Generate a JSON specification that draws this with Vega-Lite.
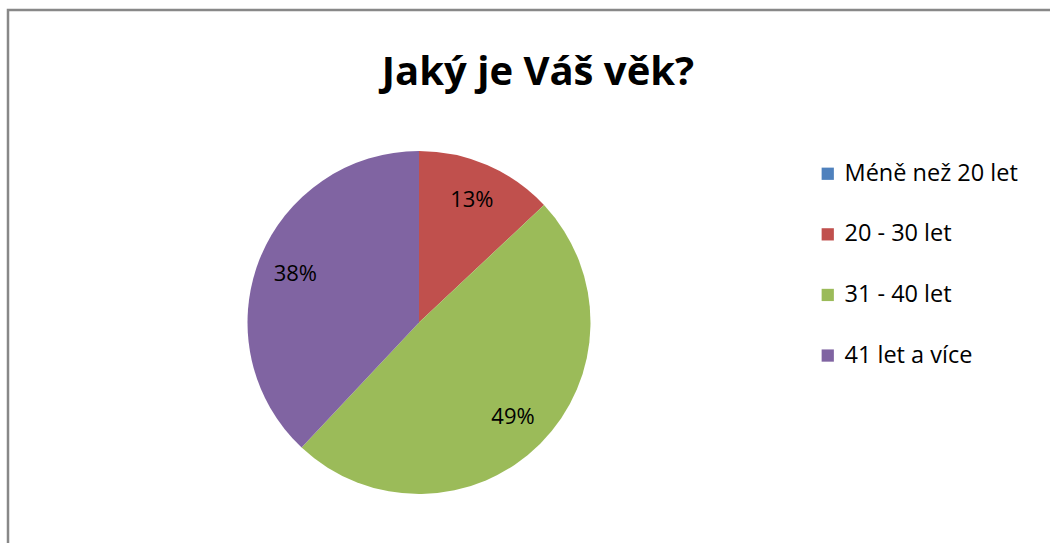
{
  "$schema": "https://vega.github.io/schema/vega-lite/v6.json",
  "autosize": {"type": "none"},
  "padding": {"left": 8, "top": 10, "right": 0, "bottom": 0},
  "width": 1060,
  "height": 560,
  "background": "white",
  "view": {"stroke": "#888888", "strokeWidth": 2.5},
  "title": {
    "text": "Jaký je Váš věk?",
    "font": "Open Sans",
    "fontSize": 40,
    "fontWeight": "bold",
    "color": "#000000",
    "anchor": "middle",
    "frame": "group",
    "baseline": "alphabetic",
    "offset": -115
  },
  "config": {
    "font": "Open Sans"
  },
  "data": {
    "values": [
      {"vek": "Méně než 20 let", "podil": 0.0, "poradi": 1},
      {"vek": "20 - 30 let", "podil": 0.13, "poradi": 2},
      {"vek": "31 - 40 let", "podil": 0.49, "poradi": 3},
      {"vek": "41 let a více", "podil": 0.38, "poradi": 4}
    ]
  },
  "encoding": {
    "theta": {"field": "podil", "type": "quantitative", "stack": true},
    "order": {"field": "poradi", "type": "quantitative"}
  },
  "layer": [
    {
      "mark": {"type": "arc", "x": 411, "y": 312.5, "outerRadius": 171.5, "stroke": null},
      "encoding": {
        "color": {
          "field": "vek",
          "type": "nominal",
          "scale": {
            "domain": ["Méně než 20 let", "20 - 30 let", "31 - 40 let", "41 let a více"],
            "range": ["#4F81BD", "#C0504D", "#9BBB59", "#8064A2"]
          },
          "legend": {
            "title": null,
            "orient": "none",
            "legendX": 808,
            "legendY": 152,
            "padding": 0,
            "symbolType": "square",
            "symbolSize": 150,
            "symbolStrokeWidth": 0,
            "labelFont": "Open Sans",
            "labelFontSize": 23.5,
            "labelColor": "#000000",
            "labelOffset": 5,
            "rowPadding": 35.6,
            "labelLimit": 300
          }
        }
      }
    },
    {
      "transform": [{"filter": "datum.podil > 0"}],
      "mark": {"type": "text", "x": 411, "y": 312.5, "radius": 133, "font": "Open Sans", "fontSize": 22, "color": "#000000"},
      "encoding": {
        "text": {"field": "podil", "type": "quantitative", "format": ".0%"}
      }
    }
  ]
}
